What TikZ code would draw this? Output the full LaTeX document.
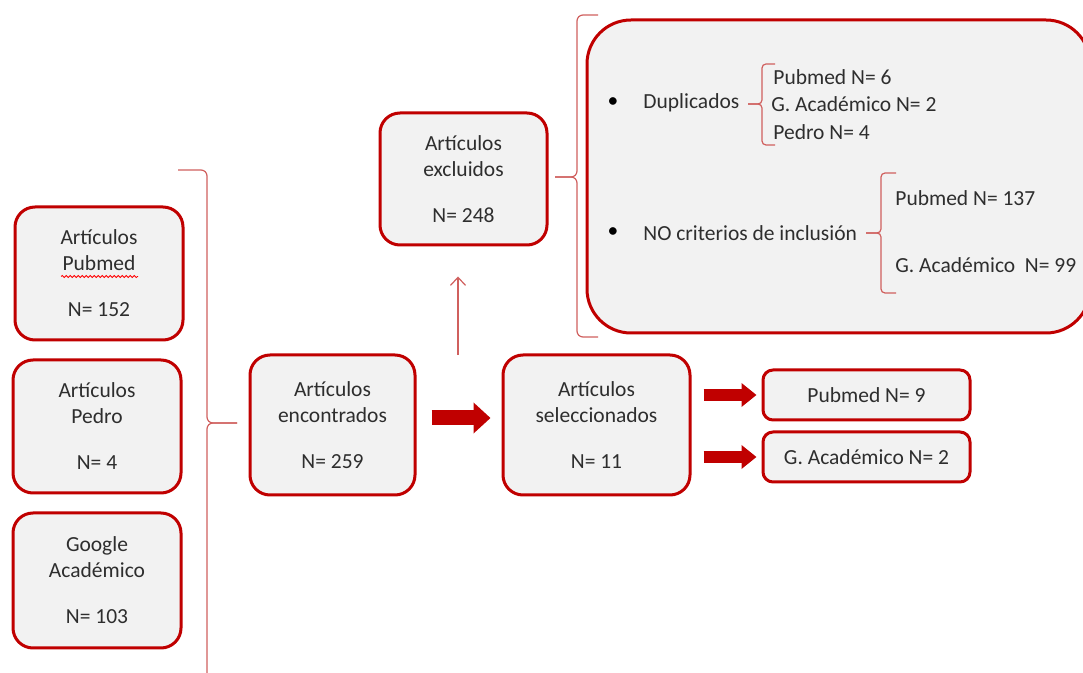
\documentclass[tikz,border=0pt]{standalone}
\usepackage{fontspec}
\setmainfont{Carlito}
\usepackage{tikz}
\usetikzlibrary{arrows.meta, decorations.pathmorphing}
\definecolor{rojo}{HTML}{C00000}
\definecolor{rojoclaro}{HTML}{D0605E}
\definecolor{fondo}{HTML}{F2F2F2}
\definecolor{texto}{HTML}{2E2E2E}

\begin{document}
\begin{tikzpicture}[x=0.5pt, y=-0.5pt,
		>=latex,   %Puntas de flecha
		font=\fontsize{10.75}{13}\selectfont,
		caja/.style={draw=rojo, line width=1.5pt, fill=fondo, rounded corners=10pt, align=center, text=texto, inner sep=0pt, minimum width=84pt, minimum height=66.5pt},
		cajita/.style={caja, rounded corners=5pt, minimum width=103.5pt, minimum height=25pt},
		lista/.style={anchor=west, inner sep=0pt, text=texto},
		punto/.style={inner sep=0pt, text=black},
		llave/.style={draw=rojoclaro, line width=0.6pt, rounded corners=3pt},
		flecha/.style={draw=rojo, line width=7.5pt, -{Triangle[length=8.5pt, width=15pt]}},
		flechita/.style={draw=rojo, line width=6pt, -{Triangle[length=7.5pt, width=11.5pt]}},
		fina/.style={draw=rojoclaro, line width=0.6pt, -{Straight Barb[length=4pt, width=7.5pt]}},
		subrayado/.style={draw=red, line width=0.4pt, decorate, decoration={snake, amplitude=0.5pt, segment length=2pt}}]
		%Bildbereich
		\useasboundingbox[fill=white] (0,0) rectangle (1083,673);
		% Fuentes
		\node[caja] (pubmed) at (99,273.5) {Artículos\\Pubmed\\[10pt]N= 152};
		\node[caja] (pedro) at (97,426.5) {Artículos\\Pedro\\[10pt]N= 4};
		\node[caja, minimum height=67.5pt] (google) at (97,580.5) {Google\\Académico\\[10pt]N= 103};
		\draw[subrayado] ([xshift=-19pt, yshift=-1.5pt]pubmed.center) -- ([xshift=19.5pt, yshift=-1.5pt]pubmed.center);
		% Pasos
		\node[caja, minimum width=82.5pt, minimum height=70pt] (encontrados) at (332.5,425) {Artículos\\encontrados\\[10pt]N= 259};
		\node[caja, minimum width=93.5pt, minimum height=70pt] (seleccionados) at (596.5,425) {Artículos\\seleccionados\\[10pt]N= 11};
		\node[caja, minimum width=83.5pt, minimum height=66pt] (excluidos) at (463.5,179) {Artículos\\excluidos\\[10pt]N= 248};
		\node[cajita] (pub9) at (866.5,395) {Pubmed N= 9};
		\node[cajita] (gac2) at (866.5,457) {G. Académico N= 2};
		% Detalle de excluidos
		\node[caja, rounded corners=22pt, minimum width=251.5pt, minimum height=156.5pt] (detalle) at (838.5,176.5) {};
		\node[punto] (p1) at (613,103) {\textbullet};
		\node[lista] (dup) at (643,103) {Duplicados};
		\node[lista] (dup1) at (773,77) {Pubmed N= 6};
		\node[lista] (dup2) at (771,104) {G. Académico N= 2};
		\node[lista] (dup3) at (773,132) {Pedro N= 4};
		\node[punto] (p2) at (613,233) {\textbullet};
		\node[lista] (noc) at (643,233) {NO criterios de inclusión};
		\node[lista] (noc1) at (895,198) {Pubmed N= 137};
		\node[lista] (noc2) at (895,265) {G. Académico\ \ N= 99};
		% Llaves
		\draw[llave] (178,170) -| (207,423) -- (237,423);
		\draw[llave] (237,423) -| (207,690);
		\draw[llave] (598,15) -| (577,177) -- (555,177);
		\draw[llave] (555,177) -| (577,337) -- (598,337);
		\draw[llave, rounded corners=2pt] (775,64) -| (762,104) -- (748,104);
		\draw[llave, rounded corners=2pt] (748,104) -| (762,145) -- (775,145);
		\draw[llave, rounded corners=2pt] (896,173) -| (881,233) -- (866,233);
		\draw[llave, rounded corners=2pt] (866,233) -| (881,293) -- (896,293);
		% Flechas
		\draw[flecha, shorten <=7.5pt, shorten >=5.5pt] ([yshift=3.5pt]encontrados.east) -- ([yshift=3.5pt]seleccionados.west);
		\draw[flechita, shorten <=6pt, shorten >=2.5pt] (seleccionados.east |- pub9.west) -- (pub9.west);
		\draw[flechita, shorten <=6pt, shorten >=2.5pt] (seleccionados.east |- gac2.west) -- (gac2.west);
		\coordinate (salida) at (458,355);
		\draw[fina, shorten >=15pt] (salida) -- (salida |- excluidos.south);
	\end{tikzpicture}
\end{document}
